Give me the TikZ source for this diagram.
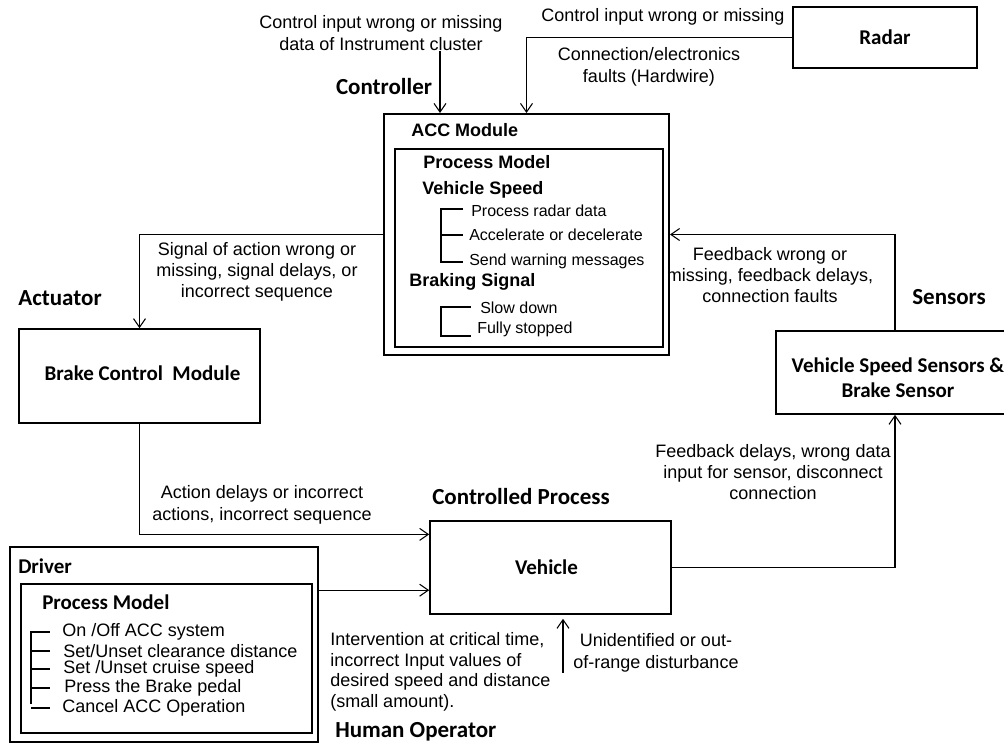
\documentclass[tikz,border=0pt]{standalone}
\usepackage{fontspec}
\setmainfont{Liberation Sans}
\newfontfamily\calibri{Carlito}
\usetikzlibrary{arrows.meta, positioning, calc, fit}

\tikzset{
  box/.style={draw, line width=1.2pt, inner sep=0pt},
  outerbox/.style={box, line width=1.5pt},
  innerbox/.style={box, line width=1.1pt},
  arr/.style={-{Straight Barb[length=6.5pt, width=9pt]}, line width=0.8pt},
  lbl/.style={font=\fontsize{13.5}{16}\selectfont, align=center, inner sep=0pt},
  item/.style={font=\fontsize{12}{14}\selectfont, anchor=west, inner sep=0pt},
  ditem/.style={font=\fontsize{13.5}{15}\selectfont, anchor=west, inner sep=0pt},
  head/.style={font=\calibri\bfseries\fontsize{17.25}{20}\selectfont, inner sep=0pt},
  boxtext/.style={font=\calibri\bfseries\fontsize{15.75}{18.5}\selectfont, align=center, inner sep=0pt},
  sub/.style={font=\bfseries\fontsize{13.5}{16}\selectfont, anchor=west, inner sep=0pt},
  bracket/.style={line width=0.8pt}
}

\begin{document}
\begin{tikzpicture}[x=0.75pt, y=-0.75pt]
  \useasboundingbox (0,0) rectangle (1004,748);

  % ── BOXES ──────────────────────────────────
  \node[outerbox, fit={(384,114) (669,355)}] (acc) {};
  \node[innerbox, fit={(395,149) (663,347)}] (accpm) {};
  \node[box, fit={(793,7) (977,68)}] (radar) {};
  \node[box, fit={(19,329) (260,423)}] (bcm) {};
  \node[box, fit={(430,521) (671,614)}] (veh) {};
  \node[box, fit={(776,331) (1014,414)}] (sens) {};
  \node[outerbox, fit={(10,547) (318,742)}] (drv) {};
  \node[innerbox, fit={(21,584) (312,733)}] (drvpm) {};

  \node[boxtext] (radarname) at (radar.center) {Radar};
  \node[boxtext] (bcmname) at ($(bcm.center)+(3,-3)$) {Brake Control\hspace{0.45em}Module};
  \node[boxtext] (vehname) at ($(veh.center)+(-4,0)$) {Vehicle};
  \node[boxtext] (sensname) at ($(sens.center)+(3,5)$)
    {Vehicle Speed Sensors \&\\Brake Sensor};

  % ── HEADINGS ───────────────────────────────
  \node[head] (hctrl) at (384,87) {Controller};
  \node[head] (hact) at (60,298) {Actuator};
  \node[head] (hsens) at (949,297) {Sensors};
  \node[head] (hproc) at (521,497) {Controlled Process};
  \node[head, anchor=west] (hhum) at (335,732) {Human Operator};

  % ── ACC MODULE CONTENT ─────────────────────
  \node[sub] (accname) at (411,130) {ACC Module};
  \node[sub] (accpmname) at (423,162) {Process Model};
  \node[sub] (vspeed) at (422,190) {Vehicle Speed};
  \node[item] (vs1) at (471,211) {Process radar data};
  \node[item] (vs2) at (469,235) {Accelerate or decelerate};
  \node[item] (vs3) at (469,261) {Send warning\ messages};
  \node[sub] (bsig) at (409,282) {Braking Signal};
  \node[item] (bs1) at (480,308) {Slow\ down};
  \node[item] (bs2) at (477,329) {Fully\ stopped};
  \draw[bracket] (463,209) -- (441,209) -- (441,262) -- (463,262);
  \draw[bracket] (441,235) -- (463,235);
  \draw[bracket] (471,307) -- (441,307) -- (441,336) -- (471,336);

  % ── DRIVER CONTENT ─────────────────────────
  \node[boxtext, anchor=west] (drvname) at (18,566) {Driver};
  \node[boxtext, anchor=west] (drvpmname) at (42,602) {Process Model};
  \foreach \y/\x/\t in {632/62/{On /Off ACC system},
                        651/63/{Set/Unset clearance distance},
                        669/63/{Set /Unset cruise speed},
                        688/64/{Press the Brake pedal},
                        708/62/{Cancel ACC Operation}} {
    \node[ditem] at (\x,\y) {\t};
    \draw[bracket] (31,\y) -- (50,\y);
  }
  \draw[bracket] (31,631) -- (31,704);

  % ── CONNECTOR LABELS ───────────────────────
  \node[lbl] (linstr) at (381,33)
    {Control input wrong or missing\\data of Instrument cluster};
  \node[lbl] (lradar) at (663,17) {Control input wrong or missing};
  \node[lbl] (lhw) at (649,67) {Connection/electronics\\faults (Hardwire)};
  \node[lbl] (lsig) at (257,272)
    {Signal of action wrong or\\missing, signal delays, or\\incorrect sequence};
  \node[lbl] (lact) at (262,505)
    {Action delays or incorrect\\actions, incorrect sequence};
  \node[lbl] (lfb) at (770,275)
    {Feedback wrong or\\missing, feedback delays,\\connection faults};
  \node[lbl] (lsensin) at (773,472)
    {Feedback delays, wrong data\\input for sensor, disconnect\\connection};
  \node[lbl, align=left, anchor=west, font=\fontsize{13.5}{15.4}\selectfont]
    (lint) at (330,672)
    {Intervention\ at critical time,\\incorrect Input values of\\desired speed and distance\\(small amount).};
  \node[lbl] (ldist) at (656,653)
    {Unidentified or out-\\of-range disturbance};

  % ── CONNECTORS ─────────────────────────────
  \coordinate (ctrlin) at ($(acc.north west)+(57,0)$);
  \coordinate (vin1) at ($(veh.north west)!0.15!(veh.south west)$);
  \coordinate (vin2) at ($(veh.north west)!0.74!(veh.south west)$);
  \coordinate (vbot) at ($(veh.south)+(12.5,4)$);
  \coordinate (dstart) at (563,673);
  \draw[arr] (linstr.south -| ctrlin) -- (ctrlin);
  \draw[arr] (radar.west) -| (acc.north);
  \draw[arr] (acc.west) -| (bcm.north);
  \draw[arr] (bcm.south) |- (vin1);
  \draw[arr] (drv.east |- vin2) -- (vin2);
  \draw[arr] (veh.east) -| (sens.south);
  \draw[arr] (sens.north) |- (acc.east);
  \draw[arr] (dstart) -- (vbot);
\end{tikzpicture}
\end{document}
